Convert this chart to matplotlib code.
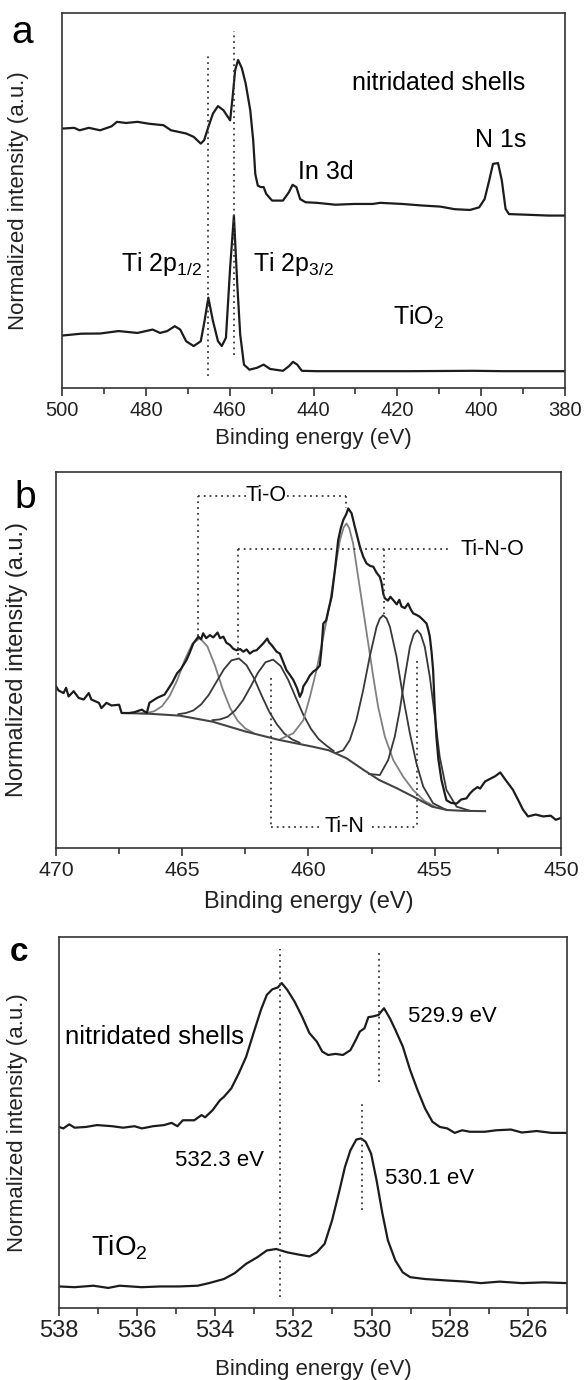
import matplotlib
matplotlib.use("Agg")
import matplotlib.pyplot as plt
from matplotlib.ticker import MultipleLocator

plt.rcParams['font.family'] = ['Liberation Sans', 'DejaVu Sans']
plt.rcParams['mathtext.default'] = 'regular'

# ---- panel a: survey spectra (x in eV, y in normalized units 0..100)
a_shell_x = [500, 497.1, 495.8, 493.6, 490.9, 488.2, 486.9, 484.7, 482.0, 479.3, 475.8, 474.0,
             470.4, 468.6, 466.9, 466.1, 465.1, 464.0, 462.8, 461.5, 459.9, 459.3, 458.7, 458.0,
             457.1, 456.2, 455.1, 454.4, 453.9, 453.3, 452.6, 451.9, 451.3, 449.9, 447.3, 445.9,
             445.0, 444.1, 443.2, 441.9, 439.2, 434.8, 430.3, 425.9, 424.1, 418.8, 414.3, 409.8,
             406.3, 402.7, 400.5, 399.2, 398.1, 397.2, 396.0, 395.1, 394.2, 393.4, 388.5, 384.0, 380.0]
a_shell_y = [69.2, 69.4, 68.75, 69.4, 68.75, 69.8, 71.0, 70.7, 71.0, 70.5, 70.1, 68.75,
             67.9, 67.0, 65.2, 66.1, 69.6, 73.2, 75.2, 74.1, 71.4, 77.7, 84.8, 87.5,
             85.3, 81.25, 74.1, 66.1, 57.1, 54.0, 53.6, 53.6, 51.8, 50.0, 50.0, 52.2,
             54.2, 53.6, 50.4, 49.55, 49.4, 48.9, 49.1, 49.1, 49.4, 49.1, 48.7, 48.4,
             47.7, 47.5, 48.2, 50.4, 55.4, 59.8, 60.0, 55.4, 47.8, 46.4, 46.2, 46.0, 46.0]
a_tio2_x = [500, 495.4, 490.9, 486.5, 482.0, 478.4, 476.6, 474.9, 473.1, 471.8, 470.4, 468.6,
            466.9, 466.0, 465.1, 464.0, 462.8, 461.9, 460.9, 459.9, 459.0, 458.2, 457.5, 456.6,
            455.3, 453.5, 451.9, 450.4, 447.3, 445.9, 444.9, 443.9, 442.8, 439.2, 430.3, 417.0,
            401.8, 394.7, 380.0]
a_tio2_y = [14.0, 14.5, 14.55, 15.2, 14.7, 15.6, 14.7, 15.2, 16.5, 15.6, 12.5, 11.2,
            12.5, 17.9, 24.1, 17.9, 12.5, 11.2, 13.4, 32.1, 46.0, 27.7, 14.3, 6.25,
            4.9, 5.4, 6.25, 5.1, 4.6, 5.8, 7.0, 6.25, 4.6, 4.5, 4.5, 4.5,
            4.6, 4.5, 4.5]
a_marker_x = [465.1, 459.0]
a_marker_lo = [3.1, 8.9]
a_marker_hi = [89.1, 95.1]

# ---- panel b: Ti 2p high resolution with fitted components
b_raw = [
    (470.0, 43.0), (469.9, 41.9), (469.7, 41.2), (469.6, 42.6), (469.5, 40.3), (469.3, 41.7),
    (469.1, 39.9), (468.9, 39.5), (468.7, 41.2), (468.6, 39.5), (468.3, 38.6), (468.2, 37.2),
    (468.0, 38.6), (467.8, 37.9), (467.5, 38.1), (467.4, 35.9), (467.1, 35.9), (466.9, 36.1),
    (466.6, 36.8), (466.4, 35.9), (466.3, 38.6), (466.0, 39.9), (465.7, 40.8), (465.4, 43.9),
    (465.2, 46.5), (465.05, 47.6), (464.83, 50.0), (464.7, 52.0), (464.56, 54.4), (464.36, 56.2),
    (464.25, 55.5), (464.17, 57.1), (464.05, 55.8), (463.9, 56.6), (463.77, 56.0), (463.6, 57.3),
    (463.5, 55.8), (463.37, 56.2), (463.25, 54.6), (463.11, 54.0), (462.98, 53.0), (462.85, 52.6),
    (462.7, 52.9), (462.58, 52.2), (462.45, 52.8), (462.32, 51.7), (462.18, 52.4), (462.05, 52.6),
    (461.92, 53.5), (461.79, 54.4), (461.63, 55.7), (461.55, 54.6), (461.46, 54.0), (461.35, 53.0),
    (461.26, 52.2), (461.13, 51.7), (461.0, 49.5), (460.87, 47.3), (460.73, 46.0), (460.6, 44.7),
    (460.45, 42.5), (460.34, 40.2), (460.25, 41.5), (460.2, 43.0), (460.07, 44.3), (459.95, 45.8),
    (459.81, 46.9), (459.68, 47.5), (459.55, 48.5), (459.48, 53.0), (459.41, 59.7), (459.3, 60.5),
    (459.2, 63.5), (459.08, 66.8), (458.95, 73.9), (458.82, 81.9), (458.72, 85.0), (458.62, 87.2),
    (458.5, 88.8), (458.42, 90.3), (458.35, 89.6), (458.29, 89.0), (458.16, 85.4), (458.05, 82.5),
    (457.96, 80.1), (457.83, 77.5), (457.7, 75.7), (457.55, 75.0), (457.43, 74.8), (457.3, 73.2),
    (457.17, 72.1), (457.1, 70.4), (457.03, 67.5), (456.97, 66.4), (456.85, 65.8), (456.75, 66.8),
    (456.64, 65.9), (456.5, 64.8), (456.4, 66.0), (456.31, 64.2), (456.18, 63.8), (456.05, 65.0),
    (455.95, 63.5), (455.85, 62.4), (455.72, 62.0), (455.59, 61.5), (455.45, 60.6), (455.32, 59.7),
    (455.25, 58.0), (455.19, 56.2), (455.12, 52.0), (455.06, 47.3), (455.0, 38.0), (454.93, 29.6),
    (454.85, 23.5), (454.73, 18.1), (454.6, 14.5), (454.53, 12.7), (454.35, 12.0), (454.13, 11.8),
    (453.95, 12.9), (453.74, 13.2), (453.6, 14.5), (453.47, 15.4), (453.3, 16.2), (453.2, 15.8),
    (453.0, 17.7), (452.8, 18.4), (452.6, 19.1), (452.4, 20.1), (452.2, 18.2), (451.9, 15.5),
    (451.7, 12.9), (451.5, 10.2), (451.3, 8.4), (451.0, 8.9), (450.7, 8.4), (450.4, 8.6),
    (450.2, 7.5), (450.0, 8.0)]
b_background = [(467.3, 35.9), (466.3, 35.7), (465.1, 35.2), (463.8, 33.6), (462.5, 31.0),
                (461.2, 28.8), (459.8, 26.9), (459.2, 26.0), (458.5, 23.9), (457.8, 20.7),
                (457.2, 18.1), (456.5, 15.9), (455.8, 13.5), (455.1, 11.0), (454.5, 10.1),
                (453.9, 9.9), (453.0, 9.8)]
# Ti-O components (grey)
b_tio_1 = [(466.6, 35.8), (466.4, 35.9), (466.1, 36.4), (465.8, 37.7), (465.5, 40.4), (465.2, 44.6),
           (464.9, 50.0), (464.6, 54.3), (464.3, 55.8), (464.0, 53.6), (463.7, 48.5), (463.4, 42.3),
           (463.1, 37.2), (462.8, 33.8), (462.5, 31.8), (462.2, 30.7)]
b_tio_2 = [(461.1, 29.0), (460.6, 30.5), (460.2, 34.0), (459.94, 40.2), (459.68, 47.3), (459.41, 56.2),
           (459.15, 65.0), (458.95, 73.9), (458.75, 81.9), (458.6, 85.3), (458.49, 86.3), (458.38, 85.0),
           (458.23, 81.0), (458.03, 72.1), (457.83, 63.3), (457.63, 54.4), (457.43, 45.5), (457.24, 37.6),
           (456.97, 29.6), (456.64, 23.4), (456.25, 19.0), (455.85, 15.4), (455.4, 12.5), (455.0, 11.0)]
# Ti-N-O components (dark)
b_tino_1 = [(465.15, 35.6), (464.85, 35.9), (464.55, 36.6), (464.25, 38.2), (463.95, 40.7), (463.65, 44.1),
            (463.35, 47.5), (463.05, 49.9), (462.75, 50.4), (462.45, 48.6), (462.15, 45.1), (461.85, 40.5),
            (461.55, 36.2), (461.25, 32.9), (460.95, 30.4), (460.65, 28.9), (460.35, 28.0)]
b_tino_2 = [(458.9, 25.3), (458.62, 26.0), (458.36, 28.7), (458.1, 34.0), (457.83, 42.0), (457.57, 50.9),
            (457.3, 58.8), (457.17, 61.0), (457.04, 61.9), (456.9, 61.0), (456.77, 58.8), (456.51, 50.9),
            (456.25, 40.2), (455.98, 30.5), (455.72, 22.5), (455.45, 16.3), (455.06, 11.9), (454.53, 10.1)]
# Ti-N components (dark)
b_tin_1 = [(463.8, 34.0), (463.5, 34.2), (463.2, 34.9), (462.9, 36.6), (462.6, 39.2), (462.3, 42.8),
           (462.0, 46.6), (461.7, 49.4), (461.4, 50.1), (461.1, 48.4), (460.8, 44.7), (460.5, 40.0),
           (460.2, 35.4), (459.9, 31.7), (459.6, 29.0), (459.3, 27.3), (459.0, 25.8)]
b_tin_2 = [(457.6, 19.7), (457.17, 19.4), (456.84, 23.4), (456.58, 29.6), (456.38, 36.7), (456.18, 45.5),
           (455.98, 53.5), (455.83, 56.8), (455.69, 57.9), (455.55, 56.8), (455.39, 53.5), (455.19, 45.5),
           (454.99, 34.9), (454.8, 24.3), (454.53, 15.4), (454.13, 11.0), (453.6, 9.9)]

# ---- panel c: O 1s spectra
c_shell_x = [538.0, 537.89, 537.74, 537.6, 537.31, 537.03, 536.64, 536.36, 536.07, 535.88, 535.59,
             535.31, 535.12, 534.97, 534.83, 534.54, 534.35, 534.26, 534.07, 533.88, 533.78, 533.59,
             533.4, 533.21, 533.02, 532.83, 532.68, 532.54, 532.4, 532.3, 532.16, 531.97, 531.78,
             531.59, 531.4, 531.26, 531.11, 530.92, 530.73, 530.54, 530.4, 530.3, 530.18, 530.08,
             529.96, 529.82, 529.68, 529.53, 529.39, 529.2, 529.01, 528.82, 528.63, 528.44, 528.25,
             528.06, 527.87, 527.68, 527.48, 527.1, 526.81, 526.43, 526.15, 525.77, 525.39, 525.0]
c_shell_y = [48.8, 48.4, 49.5, 48.6, 48.8, 49.3, 49.0, 48.6, 49.0, 48.4, 49.0,
             49.3, 49.9, 49.0, 50.6, 50.6, 52.0, 51.4, 53.3, 56.0, 56.9, 59.2,
             63.2, 67.7, 74.1, 80.4, 84.4, 85.9, 86.4, 87.6, 85.8, 82.6, 78.6,
             74.1, 71.8, 69.1, 68.2, 68.5, 68.2, 69.5, 72.3, 74.5, 75.4, 78.4,
             78.6, 79.0, 80.8, 78.1, 75.0, 70.5, 64.1, 58.7, 53.8, 50.2, 48.8,
             48.4, 47.2, 47.9, 47.5, 47.5, 47.9, 48.1, 47.3, 47.7, 47.2, 47.2]
c_tio2_x = [538.0, 537.6, 537.12, 536.74, 536.45, 535.88, 535.4, 534.93, 534.45, 534.16, 533.78,
            533.5, 533.21, 532.92, 532.68, 532.44, 532.16, 531.87, 531.59, 531.4, 531.2, 531.01,
            530.82, 530.68, 530.54, 530.39, 530.27, 530.15, 530.01, 529.87, 529.72, 529.58, 529.39,
            529.2, 529.01, 528.63, 528.06, 527.58, 527.2, 526.72, 526.15, 525.58, 525.0]
c_tio2_y = [5.8, 5.6, 6.0, 5.4, 6.0, 5.6, 5.8, 5.8, 6.0, 6.7, 7.8,
            9.4, 11.9, 13.7, 15.5, 15.9, 15.0, 14.4, 13.9, 15.0, 17.3, 23.6,
            31.7, 38.0, 42.5, 45.4, 45.7, 44.8, 41.6, 34.4, 25.4, 18.2, 12.8,
            9.6, 8.3, 7.8, 7.4, 7.1, 6.7, 7.1, 6.7, 6.9, 6.7]
c_marker_x = [532.33, 529.82, 530.25]
c_marker_lo = [2.9, 61.0, 26.3]
c_marker_hi = [96.8, 95.9, 55.1]

LINE = '#1c1c1c'
DOT = dict(color='#3a3a3a', lw=1.3, ls=(0, (1, 2.2)))


def unzip(pairs):
    return [p[0] for p in pairs], [p[1] for p in pairs]


def style_axis(ax, xlim, major, minor, tick_size, label_size, ypad, xpad):
    ax.set_xlim(*xlim)
    ax.set_ylim(0, 100)
    ax.xaxis.set_major_locator(MultipleLocator(major))
    ax.xaxis.set_minor_locator(MultipleLocator(minor))
    ax.set_yticks([])
    ax.tick_params(axis='x', which='major', direction='out', length=6, width=1.1,
                   labelsize=tick_size, pad=3, colors='#222')
    ax.tick_params(axis='x', which='minor', direction='out', length=4, width=1.1, colors='#222')
    for s in ax.spines.values():
        s.set_linewidth(1.2)
        s.set_color('#333')
    ax.set_xlabel('Binding energy (eV)', fontsize=label_size, labelpad=xpad, color='#222')
    ax.set_ylabel('Normalized intensity (a.u.)', fontsize=label_size, labelpad=ypad, color='#222')


fig = plt.figure(figsize=(5.85, 13.8), dpi=100)
ax_a = fig.add_axes([0.106, 0.7188, 0.860, 0.2717])
ax_b = fig.add_axes([0.0957, 0.3855, 0.863, 0.2725])
ax_c = fig.add_axes([0.1009, 0.0522, 0.868, 0.2688])

# panel a
ax_a.plot(a_shell_x, a_shell_y, color=LINE, lw=1.6)
ax_a.plot(a_tio2_x, a_tio2_y, color=LINE, lw=1.6)
for x, lo, hi in zip(a_marker_x, a_marker_lo, a_marker_hi):
    ax_a.plot([x, x], [lo, hi], **DOT)
ax_a.text(430.8, 79.6, 'nitridated shells', fontsize=18)
ax_a.text(401.6, 64.3, 'N 1s', fontsize=18)
ax_a.text(443.7, 55.8, 'In 3d', fontsize=18)
ax_a.text(486.0, 31.1, 'Ti 2p$_{1/2}$', fontsize=18)
ax_a.text(454.4, 31.1, 'Ti 2p$_{3/2}$', fontsize=18)
ax_a.text(421.0, 17.0, 'TiO$_2$', fontsize=18)
style_axis(ax_a, (500, 380), 20, 10, 14.5, 16, 24, 6)

# panel b
for comp, col in [(b_tio_1, '#808080'), (b_tino_1, '#383838'), (b_tin_1, '#383838'),
                  (b_tio_2, '#808080'), (b_tino_2, '#383838'), (b_tin_2, '#383838')]:
    cx, cy = unzip(comp)
    ax_b.plot(cx, cy, color=col, lw=1.3)
bx, by = unzip(b_background)
ax_b.plot(bx, by, color='#444444', lw=1.5)
rx, ry = unzip(b_raw)
ax_b.plot(rx, ry, color=LINE, lw=1.6)
# bracket annotations
ax_b.plot([464.37, 464.37], [56.3, 93.7], **DOT)
ax_b.plot([464.37, 462.45], [93.7, 93.7], **DOT)
ax_b.plot([460.85, 458.53], [93.7, 93.7], **DOT)
ax_b.plot([458.53, 458.53], [93.7, 90.4], **DOT)
ax_b.text(461.68, 93.7, 'Ti-O', fontsize=15.5, ha='center', va='center')
ax_b.plot([462.79, 454.43], [79.5, 79.5], **DOT)
ax_b.plot([462.79, 462.79], [79.5, 50.5], **DOT)
ax_b.plot([457.02, 457.02], [79.5, 62.1], **DOT)
ax_b.text(453.99, 79.5, 'Ti-N-O', fontsize=15.5, ha='left', va='center')
ax_b.plot([461.5, 461.5], [45.2, 5.6], **DOT)
ax_b.plot([455.69, 455.69], [49.6, 5.6], **DOT)
ax_b.plot([461.5, 459.6], [5.6, 5.6], **DOT)
ax_b.plot([457.5, 455.69], [5.6, 5.6], **DOT)
ax_b.text(458.57, 5.6, 'Ti-N', fontsize=15.5, ha='center', va='center')
style_axis(ax_b, (470, 450), 5, 2.5, 15.3, 17, 20, 8)

# panel c
ax_c.plot(c_shell_x, c_shell_y, color=LINE, lw=1.6)
ax_c.plot(c_tio2_x, c_tio2_y, color=LINE, lw=1.6)
for x, lo, hi in zip(c_marker_x, c_marker_lo, c_marker_hi):
    ax_c.plot([x, x], [lo, hi], **DOT)
ax_c.text(537.84, 71.2, 'nitridated shells', fontsize=18.5)
ax_c.text(529.06, 77.0, '529.9 eV', fontsize=16)
ax_c.text(535.02, 38.3, '532.3 eV', fontsize=16)
ax_c.text(529.66, 33.5, '530.1 eV', fontsize=16)
ax_c.text(537.17, 14.1, 'TiO$_2$', fontsize=20)
style_axis(ax_c, (538, 525), 2, 1, 17, 16, 22, 12)

fig.text(22 / 585, 1 - 43 / 1380, 'a', fontsize=28, ha='center', va='baseline')
fig.text(25 / 585, 1 - 508 / 1380, 'b', fontsize=28, ha='center', va='baseline')
fig.text(19 / 585, 1 - 961 / 1380, 'c', fontsize=24, ha='center', va='baseline', weight='bold')

fig.savefig('out.png', dpi=100)
